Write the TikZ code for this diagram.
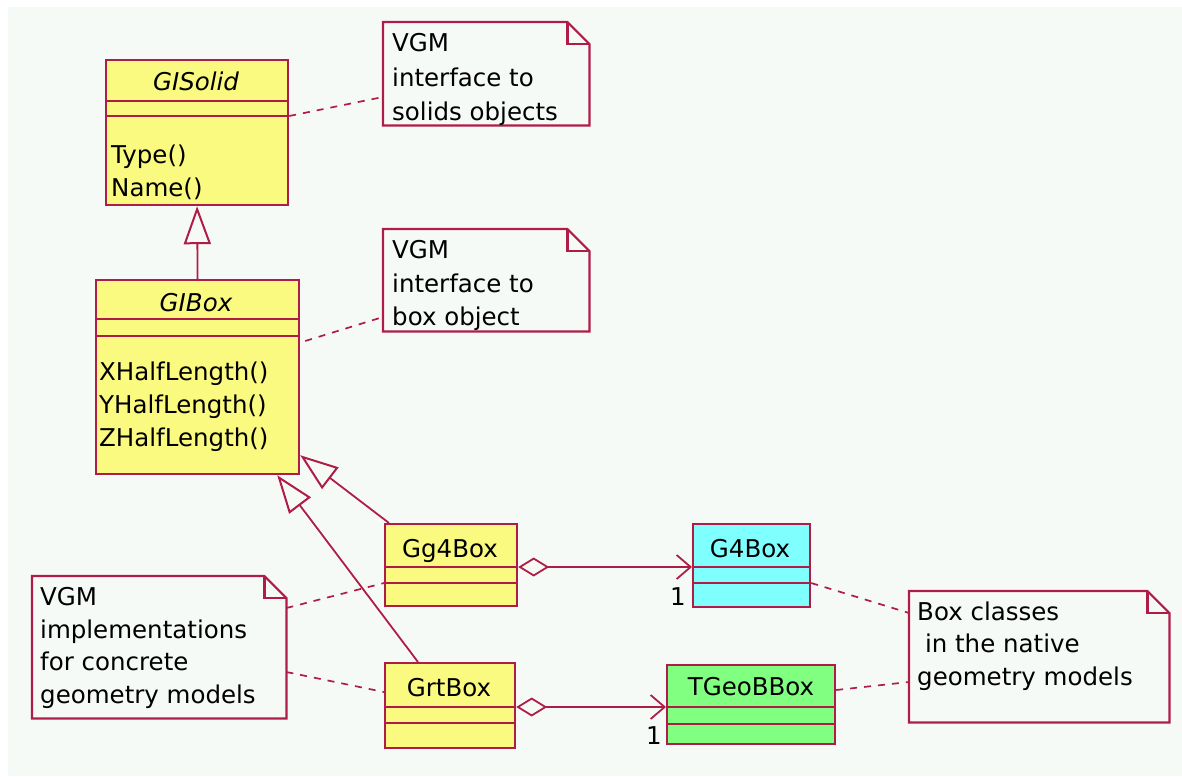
\documentclass[tikz,border=0pt]{standalone}
\usepackage{fontspec}
\setmainfont{DejaVu Sans}
\usetikzlibrary{arrows.meta,calc}
\definecolor{umlline}{RGB}{176,28,72}
\definecolor{clsyellow}{RGB}{250,250,128}
\definecolor{clscyan}{RGB}{128,255,255}
\definecolor{clsgreen}{RGB}{128,255,128}
\definecolor{canvas}{RGB}{246,250,247}
\begin{document}
\begin{tikzpicture}[x=1pt,y=-1pt,
  cls/.style={draw=umlline, line width=2.2pt, anchor=north west, inner sep=0pt, rectangle},
  cmp/.style={draw=umlline, line width=2.2pt},
  notearea/.style={draw=none, anchor=north west, inner sep=0pt, rectangle},
  notebox/.style={draw=umlline, line width=2.2pt, line join=miter},
  lbl/.style={inner sep=0pt, text=black, font=\fontsize{24.5}{33}\selectfont},
  ilbl/.style={lbl, font=\fontsize{24.5}{33}\selectfont\itshape},
  inherit/.style={draw=umlline, line width=1.8pt, -{Triangle[open, length=38pt, width=27pt, line width=2pt]}},
  aggr/.style={draw=umlline, line width=2pt,
    {Diamond[open, length=31pt, width=19pt, line width=1.8pt]}-{Straight Barb[length=14pt, width=24pt, line width=1.8pt]}},
  anchorline/.style={draw=umlline, line width=1.7pt, dash pattern=on 7pt off 7pt}]

% page and canvas
\useasboundingbox (0,0) rectangle (1182,776);
\fill[white] (0,0) rectangle (1182,776);
\fill[canvas] (8,7) rectangle (1182,776);

% ---------- classes ----------
\node[cls, fill=clsyellow, minimum width=182pt, minimum height=145pt] (solid) at (105,59) {};
\draw[cmp] ($(solid.north west)+(0,42)$) -- ($(solid.north east)+(0,42)$);
\draw[cmp] ($(solid.north west)+(0,57)$) -- ($(solid.north east)+(0,57)$);
\node[ilbl, anchor=base] (solidname) at (196,90) {GISolid};
\node[lbl, anchor=base west] (solidop1) at (111,163) {Type()};
\node[lbl, anchor=base west] (solidop2) at (111,196) {Name()};

\node[cls, fill=clsyellow, minimum width=203pt, minimum height=194pt] (box) at (95,279) {};
\draw[cmp] ($(box.north west)+(0,40)$) -- ($(box.north east)+(0,40)$);
\draw[cmp] ($(box.north west)+(0,57)$) -- ($(box.north east)+(0,57)$);
\node[ilbl, anchor=base] (boxname) at (196,311) {GIBox};
\node[lbl, anchor=base west] (boxop1) at (99,380) {XHalfLength()};
\node[lbl, anchor=base west] (boxop2) at (99,413) {YHalfLength()};
\node[lbl, anchor=base west] (boxop3) at (99,446) {ZHalfLength()};

\node[cls, fill=clsyellow, minimum width=132pt, minimum height=82pt] (gg4) at (384,523) {};
\draw[cmp] ($(gg4.north west)+(0,44)$) -- ($(gg4.north east)+(0,44)$);
\draw[cmp] ($(gg4.north west)+(0,60)$) -- ($(gg4.north east)+(0,60)$);
\node[lbl, anchor=base] (gg4name) at (450,557) {Gg4Box};

\node[cls, fill=clsyellow, minimum width=130pt, minimum height=85pt] (grt) at (384,662) {};
\draw[cmp] ($(grt.north west)+(0,45)$) -- ($(grt.north east)+(0,45)$);
\draw[cmp] ($(grt.north west)+(0,61)$) -- ($(grt.north east)+(0,61)$);
\node[lbl, anchor=base] (grtname) at (449,696) {GrtBox};

\node[cls, fill=clscyan, minimum width=117pt, minimum height=83pt] (g4) at (692,523) {};
\draw[cmp] ($(g4.north west)+(0,44)$) -- ($(g4.north east)+(0,44)$);
\draw[cmp] ($(g4.north west)+(0,60)$) -- ($(g4.north east)+(0,60)$);
\node[lbl, anchor=base] (g4name) at (750,557) {G4Box};

\node[cls, fill=clsgreen, minimum width=168pt, minimum height=79pt] (tgeo) at (666,664) {};
\draw[cmp] ($(tgeo.north west)+(0,43)$) -- ($(tgeo.north east)+(0,43)$);
\draw[cmp] ($(tgeo.north west)+(0,60)$) -- ($(tgeo.north east)+(0,60)$);
\node[lbl, anchor=base] (tgeoname) at (751,695) {TGeoBBox};

% ---------- notes ----------
\node[notearea, minimum width=206pt, minimum height=103pt] (n1) at (383,22) {};
\node[notearea, minimum width=206pt, minimum height=102pt] (n2) at (383,229) {};
\node[notearea, minimum width=254pt, minimum height=142pt] (n3) at (32,576) {};
\node[notearea, minimum width=260pt, minimum height=131pt] (n4) at (909,591) {};
\foreach \n in {n1,n2,n3,n4} {
  \draw[notebox, fill=canvas] (\n.north west) -- ($(\n.north east)+(-22,0)$)
     -- ($(\n.north east)+(0,22)$) -- (\n.south east) -- (\n.south west) -- cycle;
  \draw[notebox] ($(\n.north east)+(-22,0)$) |- ($(\n.north east)+(0,22)$);
}
\node[lbl, anchor=base west] (n1a) at (392,52) {VGM};
\node[lbl, anchor=base west] (n1b) at (392,86) {interface to};
\node[lbl, anchor=base west] (n1c) at (392,120) {solids objects};

\node[lbl, anchor=base west] (n2a) at (392,258) {VGM};
\node[lbl, anchor=base west] (n2b) at (392,292) {interface to};
\node[lbl, anchor=base west] (n2c) at (392,325) {box object};

\node[lbl, anchor=base west] (n3a) at (40,605) {VGM};
\node[lbl, anchor=base west] (n3b) at (40,638) {implementations};
\node[lbl, anchor=base west] (n3c) at (40,670) {for concrete};
\node[lbl, anchor=base west] (n3d) at (40,703) {geometry models};

\node[lbl, anchor=base west] (n4a) at (917,620) {Box classes};
\node[lbl, anchor=base west] (n4b) at (917,652) {\ in the native};
\node[lbl, anchor=base west] (n4c) at (917,685) {geometry models};

% ---------- generalizations ----------
\draw[inherit] (box.north) -- (solid.south);
\draw[inherit] ($(gg4.north west)+(5,0)$) -- ($(box.south east)+(0,-20)$);
\draw[inherit] ($(grt.north west)+(34,0)$) -- ($(box.south east)+(-23,0)$);

% ---------- aggregations ----------
\draw[aggr] ($(gg4.north east)+(0,44)$) -- ($(g4.north west)+(0,44)$);
\draw[aggr] ($(grt.north east)+(0,45)$) -- ($(tgeo.north west)+(0,43)$);
\node[lbl, anchor=base east] (mult1) at (686,605) {1};
\node[lbl, anchor=base east] (mult2) at (662,744) {1};

% ---------- note anchors ----------
\draw[anchorline] ($(solid.north east)+(0,57)$) -- ($(n1.north west)+(0,75)$);
\draw[anchorline] ($(box.north east)+(5,62)$) -- ($(n2.north west)+(0,88)$);
\draw[anchorline] ($(n3.north east)+(0,32)$) -- ($(gg4.north west)+(0,60)$);
\draw[anchorline] ($(n3.north east)+(0,96)$) -- ($(grt.north west)+(0,30)$);
\draw[anchorline] ($(g4.north east)+(0,60)$) -- ($(n4.north west)+(0,22)$);
\draw[anchorline] ($(tgeo.north east)+(0,26)$) -- ($(n4.north west)+(0,91)$);
\end{tikzpicture}
\end{document}
